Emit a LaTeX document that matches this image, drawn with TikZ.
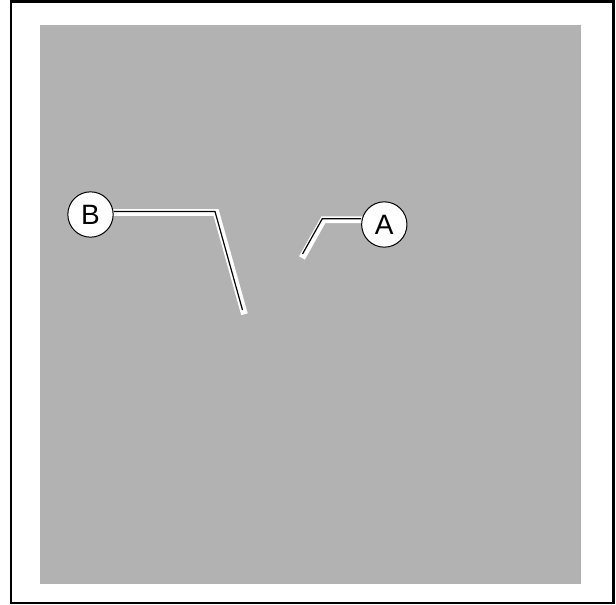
\documentclass[tikz,border=0pt]{standalone}
\usepackage{fontspec}
\setmainfont{Liberation Sans}
\usepackage{tikz}
\usetikzlibrary{positioning, backgrounds}

\begin{document}
\begin{tikzpicture}[
    x=0.75pt, y=-0.75pt,
    callout/.style={circle, draw, fill=white, line width=0.75pt,
                    minimum size=34pt, inner sep=0pt, font=\fontsize{21}{21}\selectfont},
    halo/.style={white, line width=5pt, line cap=rect, miter limit=4,
                 transform canvas={shift={(0.8pt,-0.8pt)}}},
    leader/.style={black, line width=0.9pt},
]
    % frame
    \useasboundingbox (0,0) rectangle (616,605);
    \draw[line width=1.6pt] (11,1.5) rectangle (613.5,603.3);

    % labels
    \node[callout] (labelB) at (90.5,214.5) {B};
    \node[callout] (labelA) at (384.3,224.5) {A};

    % leader points
    \coordinate (bendB) at (215,211.5);
    \coordinate (tipB) at (242.5,310);
    \coordinate (bendA) at (322.3,218.7);
    \coordinate (tipA) at (302.5,254);

    \begin{scope}[on background layer]
        % area
        \fill[black!30] (40,25) rectangle (581,584);
        % leaders
        \draw[halo] (labelB.east |- bendB) -- (bendB) -- (tipB);
        \draw[leader] (labelB.east |- bendB) -- (bendB) -- (tipB);
        \draw[halo] (labelA.west |- bendA) -- (bendA) -- (tipA);
        \draw[leader] (labelA.west |- bendA) -- (bendA) -- (tipA);
    \end{scope}
\end{tikzpicture}
\end{document}
